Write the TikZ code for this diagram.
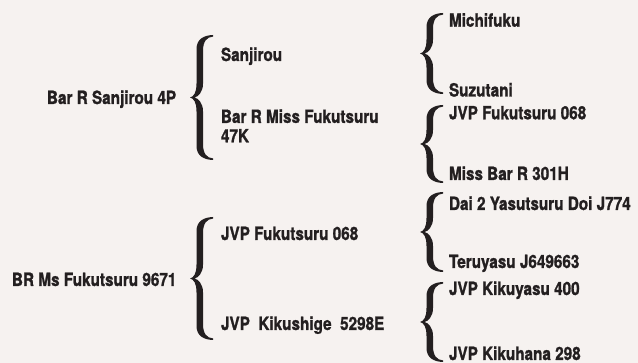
\documentclass[tikz,border=0pt]{standalone}
\usepackage{fontspec}
\newfontfamily\lblfont{texgyreheros-bold.otf}[FakeStretch=0.84,FakeBold=1.2]
\definecolor{bgc}{HTML}{F6F2F0}
\definecolor{ink}{HTML}{231F20}
\newcommand\mybrace[3]{% x, ytop, ybottom
  \pgfmathsetmacro\bh{#3-#2}%
  \pgfmathsetmacro\bm{\bh/2}%
  \begin{scope}[shift={(#1,#2)}]
  \fill[ink] (23,0) .. controls (14,0.3) and (6.5,4) .. (6.5,14)
    -- (6.5,\bm-14)
    .. controls (6.5,\bm-5) and (4,\bm-1) .. (0,\bm)
    .. controls (4,\bm+1) and (6.5,\bm+5) .. (6.5,\bm+14)
    -- (6.5,\bh-14)
    .. controls (6.5,\bh-4) and (14,\bh-0.3) .. (23,\bh)
    -- (23,\bh-1.6)
    .. controls (17,\bh-2) and (13,\bh-6) .. (13,\bh-16)
    -- (13,\bm+14)
    .. controls (13,\bm+5) and (8,\bm+0.8) .. (4.5,\bm)
    .. controls (8,\bm-0.8) and (13,\bm-5) .. (13,\bm-14)
    -- (13,16)
    .. controls (13,6) and (17,2) .. (23,1.6)
    -- cycle;
  \end{scope}}
\begin{document}
\begin{tikzpicture}[x=1pt,y=-1pt,
  lbl/.style={anchor=base west,inner sep=0pt,outer sep=0pt,text=ink,
    font=\lblfont\fontsize{18.2}{19.4}\selectfont,align=left}]
\fill[bgc] (0,0) rectangle (638,363);
\useasboundingbox (0,0) rectangle (638,363);
% generation 1
\node[lbl] (a) at (47,104) {Bar R Sanjirou 4P};
\node[lbl] (b) at (12,286) {BR Ms Fukutsuru 9671};
% generation 2
\node[lbl] (a1) at (221,61) {Sanjirou};
\node[lbl] (a2) at (221,142.3) {Bar R Miss Fukutsuru\\47K};
\node[lbl] (b1) at (221,240) {JVP Fukutsuru 068};
\node[lbl] (b2) at (221,330) {JVP\ \ Kikushige\ \ 5298E};
% generation 3
\node[lbl] (a11) at (449,26.7) {Michifuku};
\node[lbl] (a12) at (449,96.5) {Suzutani};
\node[lbl] (a21) at (449,119.3) {JVP Fukutsuru 068};
\node[lbl] (a22) at (449,180) {Miss Bar R 301H};
\node[lbl] (b11) at (449,210) {Dai 2 Yasutsuru Doi J774};
\node[lbl] (b12) at (449,268) {Teruyasu J649663};
\node[lbl] (b21) at (449,295) {JVP Kikuyasu 400};
\node[lbl] (b22) at (449,360) {JVP Kikuhana 298};
% braces
\mybrace{190}{35}{160}
\mybrace{190}{217}{340}
\mybrace{420}{13}{94}
\mybrace{420}{105}{183}
\mybrace{420}{192}{272}
\mybrace{420}{282}{362}
\end{tikzpicture}
\end{document}
